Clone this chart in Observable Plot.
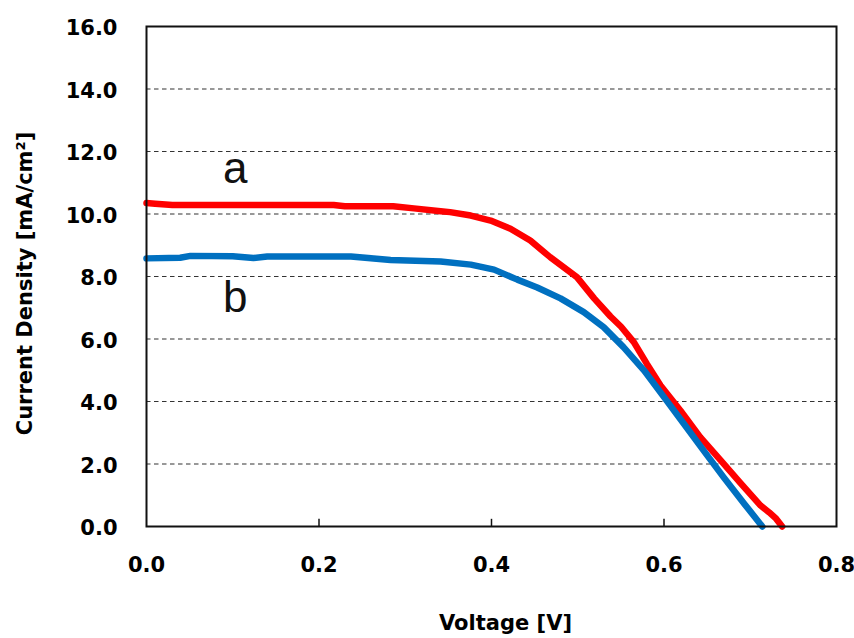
<!DOCTYPE html>
<html><head><meta charset="utf-8">
<script src="https://cdn.jsdelivr.net/npm/d3@7"></script>
<script src="https://cdn.jsdelivr.net/npm/@observablehq/plot@0.6"></script>
<style>body{margin:0;background:#fff}</style>
</head><body><div id="chart"></div>
<script>
// Curve a (red)
const voltageA = [0, 0.01, 0.03, 0.1, 0.2, 0.217, 0.23, 0.286, 0.31, 0.341, 0.352, 0.376, 0.399, 0.422, 0.445, 0.468, 0.499, 0.519, 0.538, 0.55, 0.565, 0.58, 0.596, 0.619, 0.642, 0.666, 0.689, 0.712, 0.722, 0.73, 0.737];
const currentA = [10.35, 10.33, 10.29, 10.29, 10.29, 10.29, 10.25, 10.25, 10.18, 10.09, 10.06, 9.95, 9.79, 9.53, 9.15, 8.62, 7.98, 7.30, 6.72, 6.40, 5.90, 5.21, 4.51, 3.71, 2.86, 2.11, 1.38, 0.67, 0.45, 0.25, 0.0];
// Curve b (blue)
const voltageB = [0, 0.039, 0.051, 0.1, 0.124, 0.14, 0.237, 0.283, 0.341, 0.376, 0.403, 0.43, 0.453, 0.48, 0.507, 0.53, 0.553, 0.577, 0.6, 0.623, 0.646, 0.669, 0.693, 0.714];
const currentB = [8.58, 8.60, 8.66, 8.65, 8.59, 8.64, 8.64, 8.53, 8.48, 8.38, 8.22, 7.90, 7.65, 7.30, 6.86, 6.38, 5.74, 4.99, 4.14, 3.29, 2.43, 1.58, 0.73, 0.0];

const xTicks = [0, 0.2, 0.4, 0.6, 0.8];
const yTicks = [0, 2, 4, 6, 8, 10, 12, 14, 16];
const gridValues = [2, 4, 6, 8, 10, 12, 14];
const innerXTicks = [0.2, 0.4, 0.6];
const curveLabels = ["a", "b"];
const labelVoltage = [0.103, 0.103];
const labelCurrent = [10.98, 6.85];
const xTitle = "Voltage [V]";
const yTitle = "Current Density [mA/cm²]";

const seriesA = voltageA.map((v, i) => ({v, j: currentA[i]}));
const seriesB = voltageB.map((v, i) => ({v, j: currentB[i]}));
const labelRows = curveLabels.map((t, i) => ({t, v: labelVoltage[i], j: labelCurrent[i]}));

const fmt = d3.format(".1f");

const chart = Plot.plot({
  width: 854, height: 638,
  marginLeft: 146, marginRight: 18, marginTop: 26, marginBottom: 112,
  x: {domain: [0, 0.8]},
  y: {domain: [0, 16]},
  style: {fontFamily: "DejaVu Sans", background: "white", color: "black"},
  marks: [
    Plot.gridY(gridValues, {stroke: "#333", strokeOpacity: 1, strokeWidth: 1.2, strokeDasharray: "4.5,3.5"}),
    Plot.axisX(xTicks, {tickSize: 0, tickPadding: 31, tickFormat: fmt, fontSize: 21, fontWeight: "bold", label: null}),
    Plot.ruleX(innerXTicks, {x: d => d, y1: 0, y2: 0.23, stroke: "#111", strokeWidth: 1.5}),
    Plot.axisY(yTicks, {tickSize: 0, tickPadding: 29, tickFormat: fmt, fontSize: 21, fontWeight: "bold", label: null, dy: 2}),
    Plot.line(seriesA, {x: "v", y: "j", stroke: "#FF0000", strokeWidth: 6.5, strokeLinejoin: "round"}),
    Plot.line(seriesB, {x: "v", y: "j", stroke: "#0070C0", strokeWidth: 6.5, strokeLinejoin: "round"}),
    Plot.frame({stroke: "#111", strokeWidth: 2}),
    Plot.text(labelRows, {x: "v", y: "j", text: "t", fontSize: 44, fontFamily: "Liberation Sans", lineAnchor: "bottom", fill: "#111"}),
    Plot.text([xTitle], {text: d => d, frameAnchor: "bottom", textAnchor: "middle", dx: 14, dy: 103, lineAnchor: "bottom", fontSize: 21, fontWeight: "bold"}),
    Plot.text([yTitle], {text: d => d, frameAnchor: "left", textAnchor: "middle", dx: -121, dy: 7, rotate: -90, fontSize: 21, fontWeight: "bold"})
  ]
});
document.getElementById("chart").appendChild(chart);
</script>
</body></html>
